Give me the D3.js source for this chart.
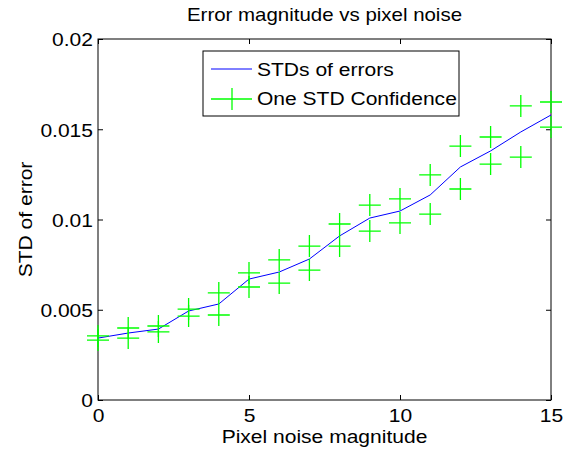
<!DOCTYPE html>
<html>
<head>
<meta charset="utf-8">
<script src="https://cdn.jsdelivr.net/npm/d3@7"></script>
<style>
  body { margin: 0; background: #fff; }
  text { font-family: "Liberation Sans", Arial, sans-serif; fill: #000; }
</style>
</head>
<body>
<script>
// chart values
const noise = [0, 1, 2, 3, 4, 5, 6, 7, 8, 9, 10, 11, 12, 13, 14, 15];
const stdErrors = [0.00343, 0.00371, 0.00393, 0.00493, 0.00532, 0.0067, 0.00709, 0.00781,
                   0.00909, 0.01008, 0.01047, 0.01136, 0.01291, 0.0138, 0.01485, 0.01579];
const upperConf = [0.00355, 0.00399, 0.0041, 0.00504, 0.00593, 0.00704, 0.00776, 0.00853,
                   0.00975, 0.0108, 0.01114, 0.01247, 0.01407, 0.01457, 0.01629, 0.01651];
const lowerConf = [0.00332, 0.00343, 0.00377, 0.00465, 0.00471, 0.00626, 0.00648, 0.0072,
                   0.00853, 0.00936, 0.00981, 0.0103, 0.01169, 0.01307, 0.01346, 0.01512];
const xTicks = [0, 5, 10, 15];
const yTicks = [0, 0.005, 0.01, 0.015, 0.02];
const yTickLabels = ['0', '0.005', '0.01', '0.015', '0.02'];
const legendLabels = ['STDs of errors', 'One STD Confidence'];

// plot box
const mLeft = 98, mRight = 551, mTop = 39, mBottom = 400;
const W = 566, H = 452;
const arm = 11;      // half size of the '+' marker
const fs = 18.3;     // font size
const stretch = 1.15; // the reference font is a bit wider than Liberation Sans

const svg = d3.select('body').append('svg')
    .attr('width', W)
    .attr('height', H);

const x = d3.scaleLinear().domain([0, 15]).range([mLeft, mRight]);
const y = d3.scaleLinear().domain([0, 0.02]).range([mBottom, mTop]);

// box
svg.append('rect')
    .attr('x', mLeft).attr('y', mTop)
    .attr('width', mRight - mLeft).attr('height', mBottom - mTop)
    .attr('fill', 'none').attr('stroke', '#000').attr('stroke-width', 1);

// axes with inward ticks (MATLAB style)
const fmtY = d => yTickLabels[yTicks.indexOf(d)];
const axB = svg.append('g').attr('transform', `translate(0,${mBottom})`)
    .call(d3.axisBottom(x).tickValues(xTicks).tickSizeInner(-5).tickSizeOuter(0).tickPadding(9).tickFormat(d3.format('d')));
const axT = svg.append('g').attr('transform', `translate(0,${mTop})`)
    .call(d3.axisTop(x).tickValues(xTicks).tickSizeInner(-5).tickSizeOuter(0).tickFormat(''));
const axL = svg.append('g').attr('transform', `translate(${mLeft},0)`)
    .call(d3.axisLeft(y).tickValues(yTicks).tickSizeInner(-5).tickSizeOuter(0).tickPadding(5).tickFormat(fmtY));
const axR = svg.append('g').attr('transform', `translate(${mRight},0)`)
    .call(d3.axisRight(y).tickValues(yTicks).tickSizeInner(-5).tickSizeOuter(0).tickFormat(''));

[axB, axT, axL, axR].forEach(a => {
  a.select('.domain').remove();
  a.selectAll('line').attr('stroke', '#000');
  a.selectAll('text').attr('font-size', fs).attr('font-family', '"Liberation Sans", Arial, sans-serif').attr('fill', '#000');
});
axB.selectAll('text').attr('dy', '0.71em');
axL.selectAll('text').attr('dy', '0.38em');

// blue line
const line = d3.line().x((d, i) => x(noise[i])).y(d => y(d));
svg.append('path')
    .datum(stdErrors)
    .attr('d', line)
    .attr('fill', 'none')
    .attr('stroke', '#0000ff')
    .attr('stroke-width', 1);

// green '+' markers at mean +/- one std
const crossPath = (cx, cy) => `M${cx - arm},${cy}H${cx + arm}M${cx},${cy - arm}V${cy + arm}`;
const conf = noise.flatMap((n, i) => [[n, upperConf[i]], [n, lowerConf[i]]]);
svg.append('g').selectAll('path')
    .data(conf)
    .join('path')
    .attr('d', d => crossPath(x(d[0]), y(d[1])))
    .attr('fill', 'none')
    .attr('stroke', '#00ff00')
    .attr('stroke-width', 1.3);

// title and axis labels
svg.append('text')
    .attr('x', (mLeft + mRight) / 2).attr('y', 21)
    .attr('text-anchor', 'middle').attr('font-size', 17.8)
    .text('Error magnitude vs pixel noise');
svg.append('text')
    .attr('x', (mLeft + mRight) / 2).attr('y', 442.5)
    .attr('text-anchor', 'middle').attr('font-size', fs)
    .text('Pixel noise magnitude');
svg.append('text')
    .attr('transform', `translate(31.5,${(mTop + mBottom) / 2}) rotate(-90)`)
    .attr('text-anchor', 'middle').attr('font-size', fs)
    .text('STD of error');

// legend
const lg = svg.append('g');
lg.append('rect')
    .attr('x', 203).attr('y', 51).attr('width', 256).attr('height', 65)
    .attr('fill', '#fff').attr('stroke', '#000').attr('stroke-width', 1);
lg.append('line')
    .attr('x1', 211).attr('x2', 252).attr('y1', 69).attr('y2', 69)
    .attr('stroke', '#0000ff').attr('stroke-width', 1);
lg.append('line')
    .attr('x1', 211).attr('x2', 252).attr('y1', 99).attr('y2', 99)
    .attr('stroke', '#00ff00').attr('stroke-width', 1.3);
lg.append('path')
    .attr('d', `M232,${99 - arm}V${99 + arm}`)
    .attr('stroke', '#00ff00').attr('stroke-width', 1.3);
lg.selectAll('text.leg')
    .data(legendLabels)
    .join('text')
    .attr('class', 'leg')
    .attr('x', 257).attr('y', (d, i) => 76 + i * 29)
    .attr('font-size', fs)
    .text(d => d);

// widen the glyphs a little to match the reference lettering
svg.selectAll('text').each(function() {
  const w = this.getComputedTextLength();
  if (w > 0) {
    d3.select(this)
      .attr('textLength', w * stretch)
      .attr('lengthAdjust', 'spacingAndGlyphs');
  }
});
</script>
</body>
</html>
